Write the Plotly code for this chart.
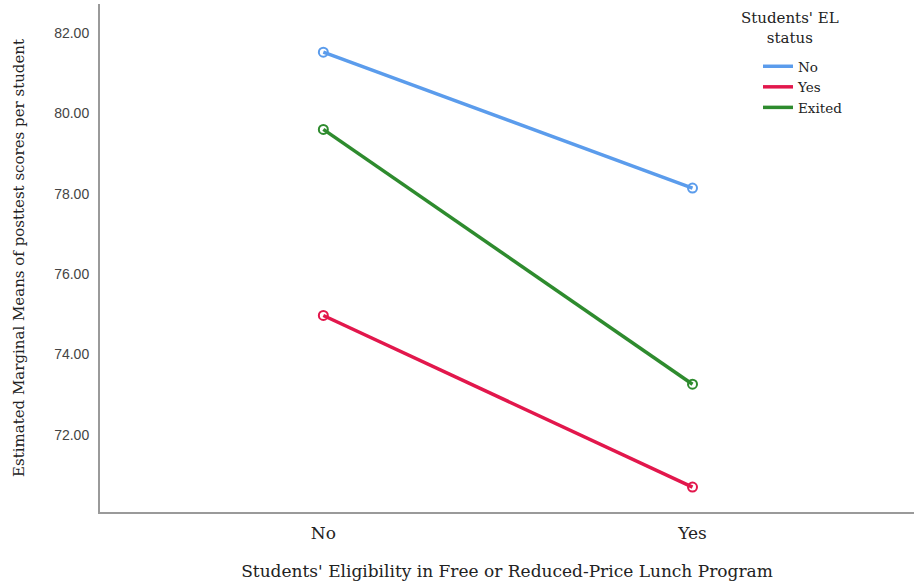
import plotly.graph_objects as go

categories = ["No", "Yes"]
series_names = ["No", "Yes", "Exited"]
values_no = [81.52, 78.14]
values_yes = [74.97, 70.70]
values_exited = [79.60, 73.26]
y_ticks = [72, 74, 76, 78, 80, 82]
y_tick_labels = ["72.00", "74.00", "76.00", "78.00", "80.00", "82.00"]

colors = ["#5b9cec", "#e2174c", "#2e8b2e"]
serif = "DejaVu Serif, serif"

fig = go.Figure()
for name, vals, col in zip(series_names, [values_no, values_yes, values_exited], colors):
    fig.add_trace(go.Scatter(
        x=[0, 1], y=vals, name=name, mode="lines+markers", showlegend=False,
        line=dict(color=col, width=3.5),
        marker=dict(symbol="circle-open", size=9, color=col, line=dict(width=2, color=col)),
    ))
# legend entries (line only, as in the reference)
for name, col in zip(series_names, colors):
    fig.add_trace(go.Scatter(
        x=[None], y=[None], name=name, mode="lines",
        line=dict(color=col, width=3.5), showlegend=True,
    ))

W, H = 914, 585
ml, mr, mt, mb = 100, 0, 4, 73
pw, ph = W - ml - mr, H - mt - mb

def px_x(p):
    return (p - ml) / pw

def px_y(p):
    return 1 - (p - mt) / ph

fig.add_annotation(
    text="Students' EL<br>status", xref="paper", yref="paper",
    x=px_x(790), y=px_y(7), xanchor="center", yanchor="top", showarrow=False,
    align="center", font=dict(family=serif, size=15, color="#222"),
)

fig.update_layout(
    width=W, height=H,
    margin=dict(l=ml, r=mr, t=mt, b=mb, autoexpand=False),
    plot_bgcolor="white", paper_bgcolor="white",
    showlegend=True,
    legend=dict(
        font=dict(family=serif, size=13.5, color="#222"),
        x=px_x(758), y=px_y(51), xanchor="left", yanchor="top",
        bgcolor="rgba(0,0,0,0)", tracegroupgap=0, itemwidth=30,
    ),
    xaxis=dict(
        range=[-0.605, 1.6], automargin=False,
        tickmode="array", tickvals=[0, 1], ticktext=categories,
        tickfont=dict(family=serif, size=17, color="#222"),
        showgrid=False, zeroline=False,
        showline=True, linecolor="#9a9a9a", linewidth=2,
        ticks="", ticklen=0, ticklabelstandoff=5,
        title=dict(text="Students' Eligibility in Free or Reduced-Price Lunch Program",
                   font=dict(family=serif, size=17, color="#222"), standoff=23),
    ),
    yaxis=dict(
        range=[70.08, 82.72], automargin=False,
        tickmode="array", tickvals=y_ticks, ticktext=y_tick_labels,
        tickfont=dict(family="Liberation Sans, Arial, sans-serif", size=14, color="#444"),
        showgrid=False, zeroline=False,
        showline=True, linecolor="#9a9a9a", linewidth=2,
        ticks="", ticklen=0, ticklabelstandoff=6,
        title=dict(text="Estimated Marginal Means of posttest scores per student",
                   font=dict(family=serif, size=15, color="#222"), standoff=26),
    ),
)

fig.write_html("out.html", config={"displayModeBar": False},
               post_script="document.body.style.margin='0';")
